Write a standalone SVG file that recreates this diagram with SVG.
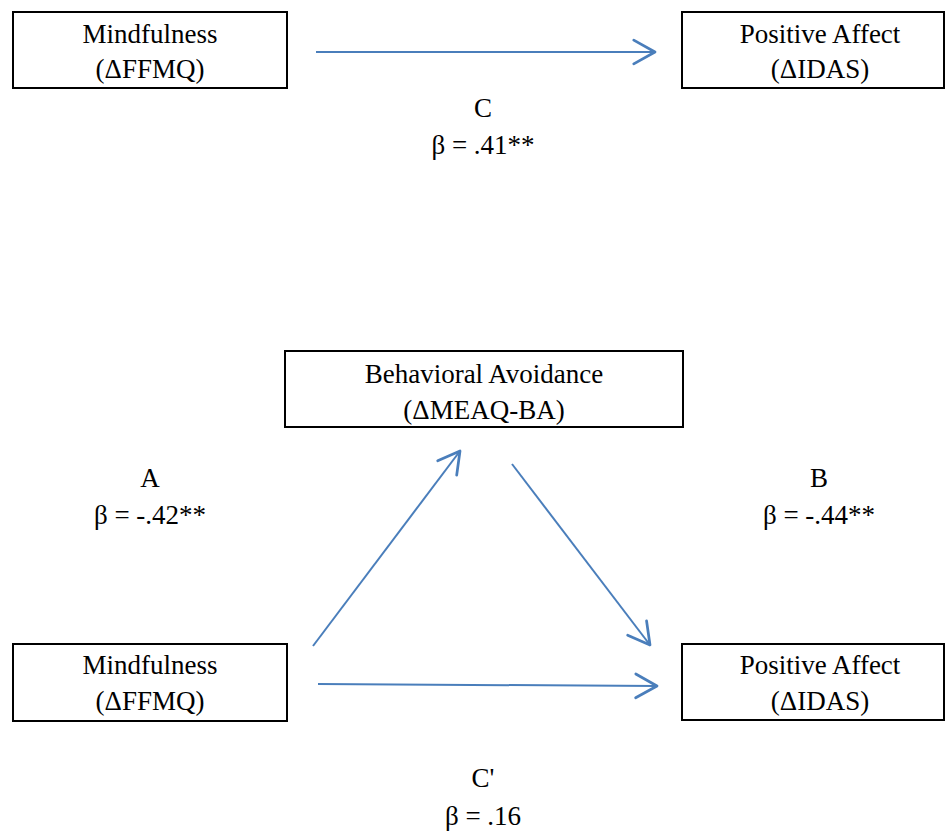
<svg xmlns="http://www.w3.org/2000/svg" width="945" height="832" viewBox="0 0 945 832">
<style>
.box{fill:#fff;stroke:#000;stroke-width:2}
.t{font-family:"Liberation Serif","Times New Roman",serif;font-size:27px;fill:#000;text-anchor:middle}
.c{stroke:#4a7ebb;stroke-width:2;fill:none}
</style>
<defs>
<marker id="arr" markerUnits="userSpaceOnUse" markerWidth="30" markerHeight="30" viewBox="-20 -12 24 24" refX="0" refY="0" orient="auto">
<path d="M-17,-9.5 L0,0 L-17,9.5" fill="none" stroke="#4a7ebb" stroke-width="2.2" stroke-linecap="round" stroke-linejoin="round"/>
</marker>
</defs>
<rect width="945" height="832" fill="#fff"/>
<g id="connectors">
<line class="c" x1="316" y1="52" x2="655" y2="52" marker-end="url(#arr)"/>
<line class="c" x1="313" y1="646" x2="460" y2="451" stroke-width="1.6" marker-end="url(#arr)"/>
<line class="c" x1="512" y1="464" x2="650" y2="645" marker-end="url(#arr)"/>
<line class="c" x1="318" y1="684" x2="657" y2="686" marker-end="url(#arr)"/>
</g>
<g id="mind1"><rect class="box" x="13" y="12" width="274" height="76"/><text class="t" x="150" y="43">Mindfulness</text><text class="t" x="150" y="78">(ΔFFMQ)</text></g>
<g id="pa1"><rect class="box" x="682" y="12" width="262" height="76"/><text class="t" x="820" y="43">Positive Affect</text><text class="t" x="820" y="78">(ΔIDAS)</text></g>
<g id="ba"><rect class="box" x="285" y="351" width="398" height="76"/><text class="t" x="484" y="383">Behavioral Avoidance</text><text class="t" x="484" y="419">(ΔMEAQ-BA)</text></g>
<g id="mind2"><rect class="box" x="13" y="644" width="274" height="77"/><text class="t" x="150" y="674">Mindfulness</text><text class="t" x="150" y="710">(ΔFFMQ)</text></g>
<g id="pa2"><rect class="box" x="682" y="644" width="262" height="76"/><text class="t" x="820" y="674">Positive Affect</text><text class="t" x="820" y="710">(ΔIDAS)</text></g>
<g id="labels">
<text class="t" x="483" y="117">C</text><text class="t" x="483" y="154">β = .41**</text>
<text class="t" x="150" y="487">A</text><text class="t" x="150" y="524">β = -.42**</text>
<text class="t" x="819" y="487">B</text><text class="t" x="819" y="524">β = -.44**</text>
<text class="t" x="483" y="787">C'</text><text class="t" x="483" y="825">β = .16</text>
</g>
</svg>
